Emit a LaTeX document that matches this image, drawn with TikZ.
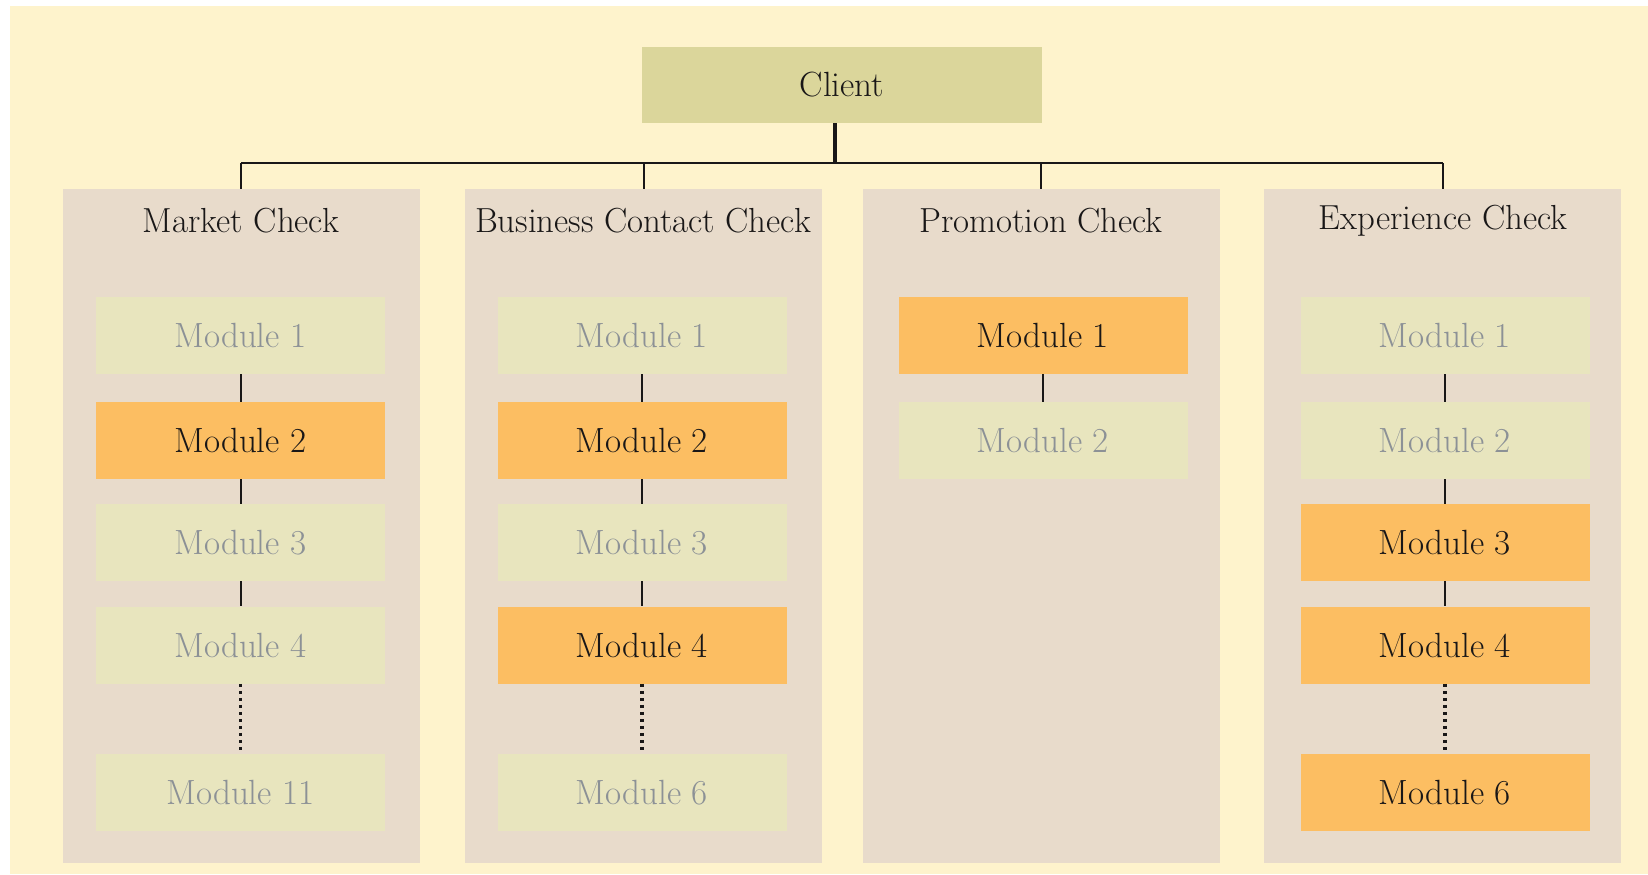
\documentclass[tikz,border=0pt]{standalone}
\usepackage{tikz}
\definecolor{bgcream}{RGB}{254,243,204}
\definecolor{panelc}{RGB}{232,219,203}
\definecolor{clientc}{RGB}{219,214,155}
\definecolor{lightc}{RGB}{232,229,190}
\definecolor{orangec}{RGB}{252,190,98}
\definecolor{greytext}{RGB}{140,145,150}
\definecolor{darktext}{RGB}{25,23,23}
\begin{document}
\begin{tikzpicture}[x=0.5pt,y=-0.5pt,
  panel/.style={fill=panelc,draw=none,minimum width=178.5pt,minimum height=337pt,inner sep=0pt},
  title/.style={font=\fontsize{17.4}{20}\selectfont,text=darktext},
  modbox/.style={draw=none,minimum width=144.5pt,minimum height=38.5pt,inner sep=0pt,font=\fontsize{17.5}{20}\selectfont},
  off/.style={modbox,fill=lightc,text=greytext},
  on/.style={modbox,fill=orangec,text=darktext},
  link/.style={draw=darktext,line width=1pt},
  dotlink/.style={draw=darktext,line width=1.6pt,dash pattern=on 1.6pt off 1.9pt},
]
\useasboundingbox (0,0) rectangle (1648,874);
\fill[white] (0,0) rectangle (1648,874);
\fill[bgcream] (10,6) rectangle (1648,874);

% client
\node[fill=clientc,minimum width=200pt,minimum height=38pt,inner sep=0pt,font=\fontsize{17.5}{20}\selectfont,text=darktext] (client) at (842,85) {Client};

% panels
\node[panel] (mc) at (241,526) {};
\node[panel] (bc) at (643.5,526) {};
\node[panel] (pc) at (1041,526) {};
\node[panel] (ec) at (1442.5,526) {};

\node[title] (mct) at (241,221) {Market Check};
\node[title] (bct) at (643,221) {Business Contact Check};
\node[title] (pct) at (1041,221) {Promotion Check};
\node[title] (ect) at (1443,221) {Experience Check};

% hub and tree lines
\coordinate (hub) at (835,163);
\draw[draw=darktext,line width=2pt] ([xshift=-3.5pt]client.south) -- (hub);
\draw[link] (mc.north |- hub) -- (ec.north |- hub);
\draw[link] (mc.north |- hub) -- (mc.north);
\draw[link] (bc.north |- hub) -- (bc.north);
\draw[link] (pc.north |- hub) -- (pc.north);
\draw[link] (ec.north |- hub) -- (ec.north);

% Market column
\node[off] (m1) at (240.5,335.5) {Module 1};
\node[on]  (m2) at (240.5,440.5) {Module 2};
\node[off] (m3) at (240.5,542.5) {Module 3};
\node[off] (m4) at (240.5,645) {Module 4};
\node[off] (m11) at (240.5,792.5) {Module 11};
\draw[link] (m1) -- (m2);
\draw[link] (m2) -- (m3);
\draw[link] (m3) -- (m4);
\draw[dotlink] (m4) -- (m11);

% Business column
\node[off] (b1) at (642,335.5) {Module 1};
\node[on]  (b2) at (642,440.5) {Module 2};
\node[off] (b3) at (642,542.5) {Module 3};
\node[on]  (b4) at (642,645) {Module 4};
\node[off] (b6) at (642,792.5) {Module 6};
\draw[link] (b1) -- (b2);
\draw[link] (b2) -- (b3);
\draw[link] (b3) -- (b4);
\draw[dotlink] (b4) -- (b6);

% Promotion column
\node[on]  (p1) at (1043,335.5) {Module 1};
\node[off] (p2) at (1043,440.5) {Module 2};
\draw[link] (p1) -- (p2);

% Experience column
\node[off] (e1) at (1445,335.5) {Module 1};
\node[off] (e2) at (1445,440.5) {Module 2};
\node[on]  (e3) at (1445,542.5) {Module 3};
\node[on]  (e4) at (1445,645) {Module 4};
\node[on]  (e6) at (1445,792.5) {Module 6};
\draw[link] (e1) -- (e2);
\draw[link] (e2) -- (e3);
\draw[link] (e3) -- (e4);
\draw[dotlink] (e4) -- (e6);
\end{tikzpicture}
\end{document}
